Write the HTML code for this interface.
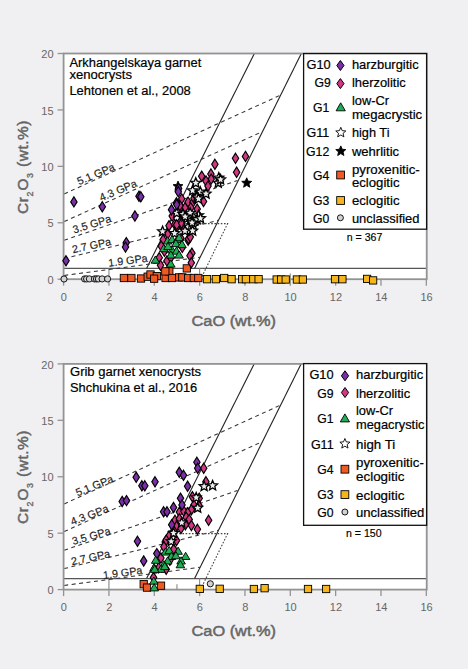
<!DOCTYPE html>
<html><head><meta charset="utf-8"><style>
html,body{margin:0;padding:0;background:#f0f0f2;}
svg{display:block}
.tk{font-family:"Liberation Sans",sans-serif;font-size:11px;fill:#666}
.lg{font-family:"Liberation Sans",sans-serif;font-size:12.2px;fill:#000;stroke:#000;stroke-width:0.2px}
.tt{font-family:"Liberation Sans",sans-serif;font-size:12.5px;fill:#000;stroke:#000;stroke-width:0.2px}
.nn{font-family:"Liberation Sans",sans-serif;font-size:10.6px;fill:#000;stroke:#000;stroke-width:0.15px}
.gp{font-family:"Liberation Sans",sans-serif;font-size:10.8px;fill:#222;stroke:#222;stroke-width:0.15px}
.ax{font-family:"Liberation Sans",sans-serif;font-size:15.4px;fill:#666;stroke:#666;stroke-width:0.5px}
</style></head><body>
<svg width="468" height="669" viewBox="0 0 468 669">
<rect width="468" height="669" fill="#f0f0f2"/>
<rect x="63.6" y="53.5" width="363.12" height="225.7" fill="#fff"/>
<line x1="63.60" y1="279.2" x2="63.60" y2="285.7" stroke="#939393" stroke-width="1.3"/>
<text x="63.90" y="300.60" class="tk" text-anchor="middle">0</text>
<line x1="108.94" y1="279.2" x2="108.94" y2="285.7" stroke="#939393" stroke-width="1.3"/>
<text x="109.24" y="300.60" class="tk" text-anchor="middle">2</text>
<line x1="154.28" y1="279.2" x2="154.28" y2="285.7" stroke="#939393" stroke-width="1.3"/>
<text x="154.58" y="300.60" class="tk" text-anchor="middle">4</text>
<line x1="199.62" y1="279.2" x2="199.62" y2="285.7" stroke="#939393" stroke-width="1.3"/>
<text x="199.92" y="300.60" class="tk" text-anchor="middle">6</text>
<line x1="244.96" y1="279.2" x2="244.96" y2="285.7" stroke="#939393" stroke-width="1.3"/>
<text x="245.26" y="300.60" class="tk" text-anchor="middle">8</text>
<line x1="290.30" y1="279.2" x2="290.30" y2="285.7" stroke="#939393" stroke-width="1.3"/>
<text x="290.60" y="300.60" class="tk" text-anchor="middle">10</text>
<line x1="335.64" y1="279.2" x2="335.64" y2="285.7" stroke="#939393" stroke-width="1.3"/>
<text x="335.94" y="300.60" class="tk" text-anchor="middle">12</text>
<line x1="380.98" y1="279.2" x2="380.98" y2="285.7" stroke="#939393" stroke-width="1.3"/>
<text x="381.28" y="300.60" class="tk" text-anchor="middle">14</text>
<line x1="426.32" y1="279.2" x2="426.32" y2="285.7" stroke="#939393" stroke-width="1.3"/>
<text x="426.62" y="300.60" class="tk" text-anchor="middle">16</text>
<line x1="57.6" y1="279.20" x2="63.6" y2="279.20" stroke="#939393" stroke-width="1.3"/>
<text x="53.60" y="283.90" class="tk" text-anchor="end">0</text>
<line x1="57.6" y1="222.77" x2="63.6" y2="222.77" stroke="#939393" stroke-width="1.3"/>
<text x="53.60" y="227.47" class="tk" text-anchor="end">5</text>
<line x1="57.6" y1="166.35" x2="63.6" y2="166.35" stroke="#939393" stroke-width="1.3"/>
<text x="53.60" y="171.05" class="tk" text-anchor="end">10</text>
<line x1="57.6" y1="109.92" x2="63.6" y2="109.92" stroke="#939393" stroke-width="1.3"/>
<text x="53.60" y="114.62" class="tk" text-anchor="end">15</text>
<line x1="57.6" y1="53.50" x2="63.6" y2="53.50" stroke="#939393" stroke-width="1.3"/>
<text x="53.60" y="58.20" class="tk" text-anchor="end">20</text>
<text x="191.50" y="326.00" class="ax" textLength="84.5" lengthAdjust="spacingAndGlyphs">CaO (wt.%)</text>
<text transform="translate(28.0 213.9) rotate(-90)" class="ax" style="letter-spacing:0.55px">Cr<tspan dy="5.3" font-size="8.8" stroke-width="0.35">2</tspan><tspan dy="-5.3" dx="0.6">O</tspan><tspan dy="5.3" font-size="8.8" stroke-width="0.35">3</tspan><tspan dy="-5.3" dx="0.8"> (wt.%)</tspan></text>
<line x1="63.6" y1="268.31" x2="426.72" y2="268.31" stroke="#555" stroke-width="1.2"/>
<line x1="108.94" y1="267.91" x2="108.94" y2="279.2" stroke="#888" stroke-width="1.1"/>
<line x1="199.62" y1="267.91" x2="199.62" y2="279.2" stroke="#888" stroke-width="1.1"/>
<line x1="290.30" y1="273.5" x2="290.30" y2="279.2" stroke="#888" stroke-width="1.1"/>
<line x1="146.7" y1="268.2" x2="254.4" y2="53.6" stroke="#222" stroke-width="1.1"/>
<line x1="194.7" y1="268.2" x2="301.3" y2="53.6" stroke="#222" stroke-width="1.1"/>
<line x1="64.2" y1="193.9" x2="280.7" y2="95" stroke="#333" stroke-width="1.05" stroke-dasharray="4 3.5" fill="none"/>
<line x1="64.2" y1="221.6" x2="262.6" y2="131.5" stroke="#333" stroke-width="1.05" stroke-dasharray="4 3.5" fill="none"/>
<line x1="64.2" y1="240.3" x2="237.5" y2="180.5" stroke="#333" stroke-width="1.05" stroke-dasharray="4 3.5" fill="none"/>
<line x1="64.2" y1="258.6" x2="218.3" y2="220.3" stroke="#333" stroke-width="1.05" stroke-dasharray="4 3.5" fill="none"/>
<line x1="64.2" y1="275.4" x2="200" y2="257.3" stroke="#333" stroke-width="1.05" stroke-dasharray="4 3.5" fill="none"/>
<path d="M176 223.6L227.6 223.6L200.7 279.2" stroke="#444" stroke-width="1.1" stroke-dasharray="1.6 1.6" fill="none"/>
<rect x="63.6" y="53.5" width="363.12" height="225.7" fill="none" stroke="#939393" stroke-width="1.8"/>
<text transform="translate(79.10000000000001 185.2) rotate(-23)" class="gp">5.1 GPa</text>
<text transform="translate(101.3 201.6) rotate(-23)" class="gp">4.3 GPa</text>
<text transform="translate(74.10000000000001 233.4) rotate(-17)" class="gp">3.5 GPa</text>
<text transform="translate(72.9 253.2) rotate(-12)" class="gp">2.7 GPa</text>
<text transform="translate(108.7 266.8) rotate(-7.5)" class="gp">1.9 GPa</text>
<rect x="203.35" y="275.55" width="7.3" height="7.3" fill="#f7b51c" stroke="#000" stroke-width="0.9"/>
<rect x="212.25" y="275.55" width="7.3" height="7.3" fill="#f7b51c" stroke="#000" stroke-width="0.9"/>
<rect x="220.55" y="274.35" width="7.3" height="7.3" fill="#f7b51c" stroke="#000" stroke-width="0.9"/>
<rect x="227.95" y="275.55" width="7.3" height="7.3" fill="#f7b51c" stroke="#000" stroke-width="0.9"/>
<rect x="238.45" y="275.55" width="7.3" height="7.3" fill="#f7b51c" stroke="#000" stroke-width="0.9"/>
<rect x="242.25" y="275.55" width="7.3" height="7.3" fill="#f7b51c" stroke="#000" stroke-width="0.9"/>
<rect x="249.65" y="275.55" width="7.3" height="7.3" fill="#f7b51c" stroke="#000" stroke-width="0.9"/>
<rect x="254.95" y="275.55" width="7.3" height="7.3" fill="#f7b51c" stroke="#000" stroke-width="0.9"/>
<rect x="273.05" y="275.85" width="7.3" height="7.3" fill="#f7b51c" stroke="#000" stroke-width="0.9"/>
<rect x="277.55" y="275.85" width="7.3" height="7.3" fill="#f7b51c" stroke="#000" stroke-width="0.9"/>
<rect x="282.05" y="275.85" width="7.3" height="7.3" fill="#f7b51c" stroke="#000" stroke-width="0.9"/>
<rect x="293.25" y="275.85" width="7.3" height="7.3" fill="#f7b51c" stroke="#000" stroke-width="0.9"/>
<rect x="299.25" y="275.85" width="7.3" height="7.3" fill="#f7b51c" stroke="#000" stroke-width="0.9"/>
<rect x="331.35" y="275.55" width="7.3" height="7.3" fill="#f7b51c" stroke="#000" stroke-width="0.9"/>
<rect x="338.75" y="275.55" width="7.3" height="7.3" fill="#f7b51c" stroke="#000" stroke-width="0.9"/>
<rect x="363.45" y="275.25" width="7.3" height="7.3" fill="#f7b51c" stroke="#000" stroke-width="0.9"/>
<rect x="369.45" y="276.75" width="7.3" height="7.3" fill="#f7b51c" stroke="#000" stroke-width="0.9"/>
<rect x="120.25" y="274.35" width="7.3" height="7.3" fill="#ef5a24" stroke="#000" stroke-width="0.9"/>
<rect x="127.75" y="274.35" width="7.3" height="7.3" fill="#ef5a24" stroke="#000" stroke-width="0.9"/>
<rect x="137.35" y="274.85" width="7.3" height="7.3" fill="#ef5a24" stroke="#000" stroke-width="0.9"/>
<rect x="144.05" y="273.05" width="7.3" height="7.3" fill="#ef5a24" stroke="#000" stroke-width="0.9"/>
<rect x="146.85" y="270.85" width="7.3" height="7.3" fill="#ef5a24" stroke="#000" stroke-width="0.9"/>
<rect x="153.15" y="272.45" width="7.3" height="7.3" fill="#ef5a24" stroke="#000" stroke-width="0.9"/>
<rect x="150.45" y="275.05" width="7.3" height="7.3" fill="#ef5a24" stroke="#000" stroke-width="0.9"/>
<rect x="161.95" y="274.35" width="7.3" height="7.3" fill="#ef5a24" stroke="#000" stroke-width="0.9"/>
<rect x="165.65" y="267.75" width="7.3" height="7.3" fill="#ef5a24" stroke="#000" stroke-width="0.9"/>
<rect x="168.35" y="274.35" width="7.3" height="7.3" fill="#ef5a24" stroke="#000" stroke-width="0.9"/>
<rect x="175.45" y="273.75" width="7.3" height="7.3" fill="#ef5a24" stroke="#000" stroke-width="0.9"/>
<rect x="183.15" y="264.75" width="7.3" height="7.3" fill="#ef5a24" stroke="#000" stroke-width="0.9"/>
<rect x="178.65" y="273.75" width="7.3" height="7.3" fill="#ef5a24" stroke="#000" stroke-width="0.9"/>
<rect x="184.45" y="274.35" width="7.3" height="7.3" fill="#ef5a24" stroke="#000" stroke-width="0.9"/>
<rect x="190.15" y="274.35" width="7.3" height="7.3" fill="#ef5a24" stroke="#000" stroke-width="0.9"/>
<rect x="194.65" y="274.35" width="7.3" height="7.3" fill="#ef5a24" stroke="#000" stroke-width="0.9"/>
<rect x="161.65" y="267.75" width="7.3" height="7.3" fill="#ef5a24" stroke="#000" stroke-width="0.9"/>
<circle cx="64.00" cy="279.00" r="3.1" fill="#d2d2d2" stroke="#000" stroke-width="0.9"/>
<circle cx="84.60" cy="278.90" r="3.1" fill="#d2d2d2" stroke="#000" stroke-width="0.9"/>
<circle cx="86.60" cy="278.90" r="3.1" fill="#d2d2d2" stroke="#000" stroke-width="0.9"/>
<circle cx="89.40" cy="278.90" r="3.1" fill="#d2d2d2" stroke="#000" stroke-width="0.9"/>
<circle cx="94.50" cy="278.90" r="3.1" fill="#d2d2d2" stroke="#000" stroke-width="0.9"/>
<circle cx="96.50" cy="278.90" r="3.1" fill="#d2d2d2" stroke="#000" stroke-width="0.9"/>
<circle cx="98.40" cy="278.90" r="3.1" fill="#d2d2d2" stroke="#000" stroke-width="0.9"/>
<circle cx="102.10" cy="278.90" r="3.1" fill="#d2d2d2" stroke="#000" stroke-width="0.9"/>
<circle cx="107.60" cy="278.90" r="3.1" fill="#d2d2d2" stroke="#000" stroke-width="0.9"/>
<path d="M178.00 181.10L179.38 184.41L182.95 184.69L180.23 187.02L181.06 190.51L178.00 188.64L174.94 190.51L175.77 187.02L173.05 184.69L176.62 184.41Z" fill="#000" stroke="#000" stroke-width="0.9" stroke-linejoin="miter"/>
<path d="M246.70 177.80L248.08 181.11L251.65 181.39L248.93 183.72L249.76 187.21L246.70 185.34L243.64 187.21L244.47 183.72L241.75 181.39L245.32 181.11Z" fill="#000" stroke="#000" stroke-width="0.9" stroke-linejoin="miter"/>
<path d="M214.90 159.20L218.10 164.30L214.90 169.40L211.70 164.30Z" fill="#cf3882" stroke="#000" stroke-width="1.15"/>
<path d="M235.50 153.20L238.70 158.30L235.50 163.40L232.30 158.30Z" fill="#cf3882" stroke="#000" stroke-width="1.15"/>
<path d="M245.50 151.30L248.70 156.40L245.50 161.50L242.30 156.40Z" fill="#cf3882" stroke="#000" stroke-width="1.15"/>
<path d="M236.60 167.10L239.80 172.20L236.60 177.30L233.40 172.20Z" fill="#cf3882" stroke="#000" stroke-width="1.15"/>
<path d="M201.70 171.10L204.90 176.20L201.70 181.30L198.50 176.20Z" fill="#cf3882" stroke="#000" stroke-width="1.15"/>
<path d="M210.90 168.90L214.10 174.00L210.90 179.10L207.70 174.00Z" fill="#cf3882" stroke="#000" stroke-width="1.15"/>
<path d="M211.20 174.00L214.40 179.10L211.20 184.20L208.00 179.10Z" fill="#cf3882" stroke="#000" stroke-width="1.15"/>
<path d="M206.00 175.90L209.20 181.00L206.00 186.10L202.80 181.00Z" fill="#cf3882" stroke="#000" stroke-width="1.15"/>
<path d="M208.00 181.00L211.20 186.10L208.00 191.20L204.80 186.10Z" fill="#cf3882" stroke="#000" stroke-width="1.15"/>
<path d="M181.70 193.80L184.90 198.90L181.70 204.00L178.50 198.90Z" fill="#cf3882" stroke="#000" stroke-width="1.15"/>
<path d="M188.10 197.00L191.30 202.10L188.10 207.20L184.90 202.10Z" fill="#cf3882" stroke="#000" stroke-width="1.15"/>
<path d="M195.10 190.60L198.30 195.70L195.10 200.80L191.90 195.70Z" fill="#cf3882" stroke="#000" stroke-width="1.15"/>
<path d="M203.50 196.40L206.70 201.50L203.50 206.60L200.30 201.50Z" fill="#cf3882" stroke="#000" stroke-width="1.15"/>
<path d="M192.70 197.50L195.90 202.60L192.70 207.70L189.50 202.60Z" fill="#cf3882" stroke="#000" stroke-width="1.15"/>
<path d="M190.80 202.70L194.00 207.80L190.80 212.90L187.60 207.80Z" fill="#cf3882" stroke="#000" stroke-width="1.15"/>
<path d="M197.20 204.00L200.40 209.10L197.20 214.20L194.00 209.10Z" fill="#cf3882" stroke="#000" stroke-width="1.15"/>
<path d="M180.50 202.00L183.70 207.10L180.50 212.20L177.30 207.10Z" fill="#cf3882" stroke="#000" stroke-width="1.15"/>
<path d="M185.00 202.70L188.20 207.80L185.00 212.90L181.80 207.80Z" fill="#cf3882" stroke="#000" stroke-width="1.15"/>
<path d="M172.20 211.00L175.40 216.10L172.20 221.20L169.00 216.10Z" fill="#cf3882" stroke="#000" stroke-width="1.15"/>
<path d="M169.00 220.60L172.20 225.70L169.00 230.80L165.80 225.70Z" fill="#cf3882" stroke="#000" stroke-width="1.15"/>
<path d="M174.70 219.30L177.90 224.40L174.70 229.50L171.50 224.40Z" fill="#cf3882" stroke="#000" stroke-width="1.15"/>
<path d="M179.90 217.40L183.10 222.50L179.90 227.60L176.70 222.50Z" fill="#cf3882" stroke="#000" stroke-width="1.15"/>
<path d="M177.30 221.30L180.50 226.40L177.30 231.50L174.10 226.40Z" fill="#cf3882" stroke="#000" stroke-width="1.15"/>
<path d="M182.40 221.30L185.60 226.40L182.40 231.50L179.20 226.40Z" fill="#cf3882" stroke="#000" stroke-width="1.15"/>
<path d="M167.70 229.00L170.90 234.10L167.70 239.20L164.50 234.10Z" fill="#cf3882" stroke="#000" stroke-width="1.15"/>
<path d="M194.00 193.10L197.20 198.20L194.00 203.30L190.80 198.20Z" fill="#cf3882" stroke="#000" stroke-width="1.15"/>
<path d="M179.90 200.50L183.10 205.60L179.90 210.70L176.70 205.60Z" fill="#cf3882" stroke="#000" stroke-width="1.15"/>
<path d="M176.70 219.70L179.90 224.80L176.70 229.90L173.50 224.80Z" fill="#cf3882" stroke="#000" stroke-width="1.15"/>
<path d="M163.10 234.60L166.30 239.70L163.10 244.80L159.90 239.70Z" fill="#cf3882" stroke="#000" stroke-width="1.15"/>
<path d="M181.00 233.30L184.20 238.40L181.00 243.50L177.80 238.40Z" fill="#cf3882" stroke="#000" stroke-width="1.15"/>
<path d="M188.10 235.20L191.30 240.30L188.10 245.40L184.90 240.30Z" fill="#cf3882" stroke="#000" stroke-width="1.15"/>
<path d="M182.30 242.30L185.50 247.40L182.30 252.50L179.10 247.40Z" fill="#cf3882" stroke="#000" stroke-width="1.15"/>
<path d="M161.20 241.00L164.40 246.10L161.20 251.20L158.00 246.10Z" fill="#cf3882" stroke="#000" stroke-width="1.15"/>
<path d="M164.40 246.10L167.60 251.20L164.40 256.30L161.20 251.20Z" fill="#cf3882" stroke="#000" stroke-width="1.15"/>
<path d="M191.90 248.10L195.10 253.20L191.90 258.30L188.70 253.20Z" fill="#cf3882" stroke="#000" stroke-width="1.15"/>
<path d="M190.00 250.60L193.20 255.70L190.00 260.80L186.80 255.70Z" fill="#cf3882" stroke="#000" stroke-width="1.15"/>
<path d="M159.20 252.60L162.40 257.70L159.20 262.80L156.00 257.70Z" fill="#cf3882" stroke="#000" stroke-width="1.15"/>
<path d="M166.90 255.80L170.10 260.90L166.90 266.00L163.70 260.90Z" fill="#cf3882" stroke="#000" stroke-width="1.15"/>
<path d="M160.50 260.20L163.70 265.30L160.50 270.40L157.30 265.30Z" fill="#cf3882" stroke="#000" stroke-width="1.15"/>
<path d="M191.30 257.70L194.50 262.80L191.30 267.90L188.10 262.80Z" fill="#cf3882" stroke="#000" stroke-width="1.15"/>
<path d="M170.80 252.60L174.00 257.70L170.80 262.80L167.60 257.70Z" fill="#cf3882" stroke="#000" stroke-width="1.15"/>
<path d="M188.50 233.60L191.70 238.70L188.50 243.80L185.30 238.70Z" fill="#cf3882" stroke="#000" stroke-width="1.15"/>
<path d="M190.30 231.90L193.50 237.00L190.30 242.10L187.10 237.00Z" fill="#cf3882" stroke="#000" stroke-width="1.15"/>
<path d="M181.70 218.20L184.90 223.30L181.70 228.40L178.50 223.30Z" fill="#cf3882" stroke="#000" stroke-width="1.15"/>
<path d="M218.80 172.60L220.18 175.91L223.75 176.19L221.03 178.52L221.86 182.01L218.80 180.14L215.74 182.01L216.57 178.52L213.85 176.19L217.42 175.91Z" fill="#ececec" stroke="#000" stroke-width="1.3" stroke-linejoin="miter"/>
<path d="M218.20 177.80L219.58 181.11L223.15 181.39L220.43 183.72L221.26 187.21L218.20 185.34L215.14 187.21L215.97 183.72L213.25 181.39L216.82 181.11Z" fill="#ececec" stroke="#000" stroke-width="1.3" stroke-linejoin="miter"/>
<path d="M195.80 177.80L197.18 181.11L200.75 181.39L198.03 183.72L198.86 187.21L195.80 185.34L192.74 187.21L193.57 183.72L190.85 181.39L194.42 181.11Z" fill="#ececec" stroke="#000" stroke-width="1.3" stroke-linejoin="miter"/>
<path d="M192.60 185.40L193.98 188.71L197.55 188.99L194.83 191.32L195.66 194.81L192.60 192.94L189.54 194.81L190.37 191.32L187.65 188.99L191.22 188.71Z" fill="#ececec" stroke="#000" stroke-width="1.3" stroke-linejoin="miter"/>
<path d="M200.30 186.70L201.68 190.01L205.25 190.29L202.53 192.62L203.36 196.11L200.30 194.24L197.24 196.11L198.07 192.62L195.35 190.29L198.92 190.01Z" fill="#ececec" stroke="#000" stroke-width="1.3" stroke-linejoin="miter"/>
<path d="M206.00 188.60L207.38 191.91L210.95 192.19L208.23 194.52L209.06 198.01L206.00 196.14L202.94 198.01L203.77 194.52L201.05 192.19L204.62 191.91Z" fill="#ececec" stroke="#000" stroke-width="1.3" stroke-linejoin="miter"/>
<path d="M197.00 191.80L198.38 195.11L201.95 195.39L199.23 197.72L200.06 201.21L197.00 199.34L193.94 201.21L194.77 197.72L192.05 195.39L195.62 195.11Z" fill="#ececec" stroke="#000" stroke-width="1.3" stroke-linejoin="miter"/>
<path d="M220.60 174.40L221.98 177.71L225.55 177.99L222.83 180.32L223.66 183.81L220.60 181.94L217.54 183.81L218.37 180.32L215.65 177.99L219.22 177.71Z" fill="#ececec" stroke="#000" stroke-width="1.3" stroke-linejoin="miter"/>
<path d="M198.50 193.60L199.88 196.91L203.45 197.19L200.73 199.52L201.56 203.01L198.50 201.14L195.44 203.01L196.27 199.52L193.55 197.19L197.12 196.91Z" fill="#ececec" stroke="#000" stroke-width="1.3" stroke-linejoin="miter"/>
<path d="M176.70 207.80L178.08 211.11L181.65 211.39L178.93 213.72L179.76 217.21L176.70 215.34L173.64 217.21L174.47 213.72L171.75 211.39L175.32 211.11Z" fill="#ececec" stroke="#000" stroke-width="1.3" stroke-linejoin="miter"/>
<path d="M183.00 209.00L184.38 212.31L187.95 212.59L185.23 214.92L186.06 218.41L183.00 216.54L179.94 218.41L180.77 214.92L178.05 212.59L181.62 212.31Z" fill="#ececec" stroke="#000" stroke-width="1.3" stroke-linejoin="miter"/>
<path d="M190.10 207.80L191.48 211.11L195.05 211.39L192.33 213.72L193.16 217.21L190.10 215.34L187.04 217.21L187.87 213.72L185.15 211.39L188.72 211.11Z" fill="#ececec" stroke="#000" stroke-width="1.3" stroke-linejoin="miter"/>
<path d="M198.50 210.30L199.88 213.61L203.45 213.89L200.73 216.22L201.56 219.71L198.50 217.84L195.44 219.71L196.27 216.22L193.55 213.89L197.12 213.61Z" fill="#ececec" stroke="#000" stroke-width="1.3" stroke-linejoin="miter"/>
<path d="M186.90 213.50L188.28 216.81L191.85 217.09L189.13 219.42L189.96 222.91L186.90 221.04L183.84 222.91L184.67 219.42L181.95 217.09L185.52 216.81Z" fill="#ececec" stroke="#000" stroke-width="1.3" stroke-linejoin="miter"/>
<path d="M192.00 215.40L193.38 218.71L196.95 218.99L194.23 221.32L195.06 224.81L192.00 222.94L188.94 224.81L189.77 221.32L187.05 218.99L190.62 218.71Z" fill="#ececec" stroke="#000" stroke-width="1.3" stroke-linejoin="miter"/>
<path d="M197.20 214.20L198.58 217.51L202.15 217.79L199.43 220.12L200.26 223.61L197.20 221.74L194.14 223.61L194.97 220.12L192.25 217.79L195.82 217.51Z" fill="#ececec" stroke="#000" stroke-width="1.3" stroke-linejoin="miter"/>
<path d="M188.20 221.80L189.58 225.11L193.15 225.39L190.43 227.72L191.26 231.21L188.20 229.34L185.14 231.21L185.97 227.72L183.25 225.39L186.82 225.11Z" fill="#ececec" stroke="#000" stroke-width="1.3" stroke-linejoin="miter"/>
<path d="M193.30 220.60L194.68 223.91L198.25 224.19L195.53 226.52L196.36 230.01L193.30 228.14L190.24 230.01L191.07 226.52L188.35 224.19L191.92 223.91Z" fill="#ececec" stroke="#000" stroke-width="1.3" stroke-linejoin="miter"/>
<path d="M162.60 226.30L163.98 229.61L167.55 229.89L164.83 232.22L165.66 235.71L162.60 233.84L159.54 235.71L160.37 232.22L157.65 229.89L161.22 229.61Z" fill="#ececec" stroke="#000" stroke-width="1.3" stroke-linejoin="miter"/>
<path d="M185.00 225.70L186.38 229.01L189.95 229.29L187.23 231.62L188.06 235.11L185.00 233.24L181.94 235.11L182.77 231.62L180.05 229.29L183.62 229.01Z" fill="#ececec" stroke="#000" stroke-width="1.3" stroke-linejoin="miter"/>
<path d="M174.60 228.10L175.98 231.41L179.55 231.69L176.83 234.02L177.66 237.51L174.60 235.64L171.54 237.51L172.37 234.02L169.65 231.69L173.22 231.41Z" fill="#ececec" stroke="#000" stroke-width="1.3" stroke-linejoin="miter"/>
<path d="M192.60 225.60L193.98 228.91L197.55 229.19L194.83 231.52L195.66 235.01L192.60 233.14L189.54 235.01L190.37 231.52L187.65 229.19L191.22 228.91Z" fill="#ececec" stroke="#000" stroke-width="1.3" stroke-linejoin="miter"/>
<path d="M185.10 211.50L186.48 214.81L190.05 215.09L187.33 217.42L188.16 220.91L185.10 219.04L182.04 220.91L182.87 217.42L180.15 215.09L183.72 214.81Z" fill="#ececec" stroke="#000" stroke-width="1.3" stroke-linejoin="miter"/>
<path d="M192.00 217.50L193.38 220.81L196.95 221.09L194.23 223.42L195.06 226.91L192.00 225.04L188.94 226.91L189.77 223.42L187.05 221.09L190.62 220.81Z" fill="#ececec" stroke="#000" stroke-width="1.3" stroke-linejoin="miter"/>
<path d="M200.50 213.20L201.88 216.51L205.45 216.79L202.73 219.12L203.56 222.61L200.50 220.74L197.44 222.61L198.27 219.12L195.55 216.79L199.12 216.51Z" fill="#ececec" stroke="#000" stroke-width="1.3" stroke-linejoin="miter"/>
<path d="M73.90 196.80L77.10 201.90L73.90 207.00L70.70 201.90Z" fill="#7a2ea8" stroke="#000" stroke-width="1.15"/>
<path d="M102.30 201.70L105.50 206.80L102.30 211.90L99.10 206.80Z" fill="#7a2ea8" stroke="#000" stroke-width="1.15"/>
<path d="M139.00 191.10L142.20 196.20L139.00 201.30L135.80 196.20Z" fill="#7a2ea8" stroke="#000" stroke-width="1.15"/>
<path d="M140.80 191.70L144.00 196.80L140.80 201.90L137.60 196.80Z" fill="#7a2ea8" stroke="#000" stroke-width="1.15"/>
<path d="M134.90 210.90L138.10 216.00L134.90 221.10L131.70 216.00Z" fill="#7a2ea8" stroke="#000" stroke-width="1.15"/>
<path d="M126.30 237.50L129.50 242.60L126.30 247.70L123.10 242.60Z" fill="#7a2ea8" stroke="#000" stroke-width="1.15"/>
<path d="M125.50 242.00L128.70 247.10L125.50 252.20L122.30 247.10Z" fill="#7a2ea8" stroke="#000" stroke-width="1.15"/>
<path d="M66.00 255.70L69.20 260.80L66.00 265.90L62.80 260.80Z" fill="#7a2ea8" stroke="#000" stroke-width="1.15"/>
<path d="M178.60 183.30L181.80 188.40L178.60 193.50L175.40 188.40Z" fill="#7a2ea8" stroke="#000" stroke-width="1.15"/>
<path d="M176.50 197.70L179.70 202.80L176.50 207.90L173.30 202.80Z" fill="#7a2ea8" stroke="#000" stroke-width="1.15"/>
<path d="M176.70 199.50L179.90 204.60L176.70 209.70L173.50 204.60Z" fill="#7a2ea8" stroke="#000" stroke-width="1.15"/>
<path d="M171.50 204.60L174.70 209.70L171.50 214.80L168.30 209.70Z" fill="#7a2ea8" stroke="#000" stroke-width="1.15"/>
<path d="M178.30 186.60L181.50 191.70L178.30 196.80L175.10 191.70Z" fill="#7a2ea8" stroke="#000" stroke-width="1.15"/>
<path d="M167.60 236.80L171.90 244.00L163.30 244.00Z" fill="#1eae54" stroke="#000" stroke-width="0.9"/>
<path d="M172.00 235.50L176.30 242.70L167.70 242.70Z" fill="#1eae54" stroke="#000" stroke-width="0.9"/>
<path d="M177.20 235.50L181.50 242.70L172.90 242.70Z" fill="#1eae54" stroke="#000" stroke-width="0.9"/>
<path d="M179.10 233.60L183.40 240.80L174.80 240.80Z" fill="#1eae54" stroke="#000" stroke-width="0.9"/>
<path d="M163.70 244.50L168.00 251.70L159.40 251.70Z" fill="#1eae54" stroke="#000" stroke-width="0.9"/>
<path d="M175.90 239.40L180.20 246.60L171.60 246.60Z" fill="#1eae54" stroke="#000" stroke-width="0.9"/>
<path d="M172.00 245.80L176.30 253.00L167.70 253.00Z" fill="#1eae54" stroke="#000" stroke-width="0.9"/>
<path d="M176.50 247.00L180.80 254.20L172.20 254.20Z" fill="#1eae54" stroke="#000" stroke-width="0.9"/>
<path d="M170.80 250.90L175.10 258.10L166.50 258.10Z" fill="#1eae54" stroke="#000" stroke-width="0.9"/>
<path d="M179.10 250.90L183.40 258.10L174.80 258.10Z" fill="#1eae54" stroke="#000" stroke-width="0.9"/>
<path d="M155.40 256.00L159.70 263.20L151.10 263.20Z" fill="#1eae54" stroke="#000" stroke-width="0.9"/>
<path d="M170.80 259.90L175.10 267.10L166.50 267.10Z" fill="#1eae54" stroke="#000" stroke-width="0.9"/>
<path d="M168.00 242.40L172.30 249.60L163.70 249.60Z" fill="#1eae54" stroke="#000" stroke-width="0.9"/>
<path d="M182.00 240.40L186.30 247.60L177.70 247.60Z" fill="#1eae54" stroke="#000" stroke-width="0.9"/>
<text x="69.40" y="67.00" class="tt" textLength="131.9" lengthAdjust="spacingAndGlyphs">Arkhangelskaya garnet</text>
<text x="69.40" y="78.80" class="tt" textLength="62.6" lengthAdjust="spacingAndGlyphs">xenocrysts</text>
<text x="69.40" y="94.50" class="tt" textLength="121.4" lengthAdjust="spacingAndGlyphs">Lehtonen et al., 2008</text>
<rect x="303.6" y="53.6" width="123" height="175.6" fill="#fff" stroke="#111" stroke-width="1.3"/>
<text x="330.70" y="69.00" class="lg" text-anchor="end" textLength="24.2" lengthAdjust="spacingAndGlyphs">G10</text>
<path d="M340.40 60.50L344.00 65.50L340.40 70.50L336.80 65.50Z" fill="#7a2ea8" stroke="#000" stroke-width="1.0"/>
<text x="351.90" y="69.10" class="lg" textLength="66.7" lengthAdjust="spacingAndGlyphs">harzburgitic</text>
<text x="330.70" y="87.10" class="lg" text-anchor="end">G9</text>
<path d="M340.40 78.60L344.00 83.60L340.40 88.60L336.80 83.60Z" fill="#cf3882" stroke="#000" stroke-width="1.0"/>
<text x="351.90" y="87.20" class="lg" textLength="53.9" lengthAdjust="spacingAndGlyphs">lherzolitic</text>
<text x="329.30" y="111.70" class="lg" text-anchor="end">G1</text>
<path d="M340.70 102.80L345.30 110.80L336.10 110.80Z" fill="#1eae54" stroke="#000" stroke-width="0.9"/>
<text x="351.90" y="105.00" class="lg" textLength="37.1" lengthAdjust="spacingAndGlyphs">low-Cr</text>
<text x="351.90" y="118.80" class="lg" textLength="70.3" lengthAdjust="spacingAndGlyphs">megacrystic</text>
<text x="329.30" y="137.20" class="lg" text-anchor="end" textLength="22.7" lengthAdjust="spacingAndGlyphs">G11</text>
<path d="M340.80 127.30L342.20 130.67L345.84 130.96L343.07 133.34L343.92 136.89L340.80 134.98L337.68 136.89L338.53 133.34L335.76 130.96L339.40 130.67Z" fill="#fff" stroke="#000" stroke-width="0.9" stroke-linejoin="miter"/>
<text x="351.90" y="137.30" class="lg" textLength="37.6" lengthAdjust="spacingAndGlyphs">high Ti</text>
<text x="329.30" y="156.10" class="lg" text-anchor="end" textLength="23.3" lengthAdjust="spacingAndGlyphs">G12</text>
<path d="M340.80 145.90L342.20 149.27L345.84 149.56L343.07 151.94L343.92 155.49L340.80 153.58L337.68 155.49L338.53 151.94L335.76 149.56L339.40 149.27Z" fill="#000" stroke="#000" stroke-width="0.9" stroke-linejoin="miter"/>
<text x="351.90" y="156.00" class="lg" textLength="47.2" lengthAdjust="spacingAndGlyphs">wehrlitic</text>
<text x="329.30" y="180.00" class="lg" text-anchor="end">G4</text>
<rect x="336.70" y="171.10" width="7.8" height="7.8" fill="#ef5a24" stroke="#000" stroke-width="0.9"/>
<text x="351.90" y="174.10" class="lg" textLength="67.9" lengthAdjust="spacingAndGlyphs">pyroxenitic-</text>
<text x="351.90" y="187.20" class="lg" textLength="47.6" lengthAdjust="spacingAndGlyphs">eclogitic</text>
<text x="329.30" y="205.20" class="lg" text-anchor="end">G3</text>
<rect x="336.70" y="196.60" width="7.8" height="7.8" fill="#f7b51c" stroke="#000" stroke-width="0.9"/>
<text x="351.90" y="205.20" class="lg" textLength="47.6" lengthAdjust="spacingAndGlyphs">eclogitic</text>
<text x="329.30" y="223.10" class="lg" text-anchor="end">G0</text>
<circle cx="340.40" cy="217.80" r="3.0" fill="#d2d2d2" stroke="#000" stroke-width="0.9"/>
<text x="351.90" y="223.00" class="lg" textLength="67.6" lengthAdjust="spacingAndGlyphs">unclassified</text>
<text x="346.70" y="240.60" class="nn" textLength="35.6" lengthAdjust="spacingAndGlyphs">n = 367</text>
<rect x="63.6" y="363.9" width="363.12" height="225.70000000000005" fill="#fff"/>
<line x1="63.60" y1="589.6" x2="63.60" y2="596.1" stroke="#939393" stroke-width="1.3"/>
<text x="63.90" y="611.00" class="tk" text-anchor="middle">0</text>
<line x1="108.94" y1="589.6" x2="108.94" y2="596.1" stroke="#939393" stroke-width="1.3"/>
<text x="109.24" y="611.00" class="tk" text-anchor="middle">2</text>
<line x1="154.28" y1="589.6" x2="154.28" y2="596.1" stroke="#939393" stroke-width="1.3"/>
<text x="154.58" y="611.00" class="tk" text-anchor="middle">4</text>
<line x1="199.62" y1="589.6" x2="199.62" y2="596.1" stroke="#939393" stroke-width="1.3"/>
<text x="199.92" y="611.00" class="tk" text-anchor="middle">6</text>
<line x1="244.96" y1="589.6" x2="244.96" y2="596.1" stroke="#939393" stroke-width="1.3"/>
<text x="245.26" y="611.00" class="tk" text-anchor="middle">8</text>
<line x1="290.30" y1="589.6" x2="290.30" y2="596.1" stroke="#939393" stroke-width="1.3"/>
<text x="290.60" y="611.00" class="tk" text-anchor="middle">10</text>
<line x1="335.64" y1="589.6" x2="335.64" y2="596.1" stroke="#939393" stroke-width="1.3"/>
<text x="335.94" y="611.00" class="tk" text-anchor="middle">12</text>
<line x1="380.98" y1="589.6" x2="380.98" y2="596.1" stroke="#939393" stroke-width="1.3"/>
<text x="381.28" y="611.00" class="tk" text-anchor="middle">14</text>
<line x1="426.32" y1="589.6" x2="426.32" y2="596.1" stroke="#939393" stroke-width="1.3"/>
<text x="426.62" y="611.00" class="tk" text-anchor="middle">16</text>
<line x1="57.6" y1="589.60" x2="63.6" y2="589.60" stroke="#939393" stroke-width="1.3"/>
<text x="53.60" y="594.30" class="tk" text-anchor="end">0</text>
<line x1="57.6" y1="533.17" x2="63.6" y2="533.17" stroke="#939393" stroke-width="1.3"/>
<text x="53.60" y="537.88" class="tk" text-anchor="end">5</text>
<line x1="57.6" y1="476.75" x2="63.6" y2="476.75" stroke="#939393" stroke-width="1.3"/>
<text x="53.60" y="481.45" class="tk" text-anchor="end">10</text>
<line x1="57.6" y1="420.32" x2="63.6" y2="420.32" stroke="#939393" stroke-width="1.3"/>
<text x="53.60" y="425.02" class="tk" text-anchor="end">15</text>
<line x1="57.6" y1="363.90" x2="63.6" y2="363.90" stroke="#939393" stroke-width="1.3"/>
<text x="53.60" y="368.60" class="tk" text-anchor="end">20</text>
<text x="191.50" y="636.00" class="ax" textLength="84.5" lengthAdjust="spacingAndGlyphs">CaO (wt.%)</text>
<text transform="translate(28.0 523.9) rotate(-90)" class="ax" style="letter-spacing:0.55px">Cr<tspan dy="5.3" font-size="8.8" stroke-width="0.35">2</tspan><tspan dy="-5.3" dx="0.6">O</tspan><tspan dy="5.3" font-size="8.8" stroke-width="0.35">3</tspan><tspan dy="-5.3" dx="0.8"> (wt.%)</tspan></text>
<line x1="63.6" y1="578.71" x2="426.72" y2="578.71" stroke="#555" stroke-width="1.2"/>
<line x1="108.94" y1="578.31" x2="108.94" y2="589.6" stroke="#888" stroke-width="1.1"/>
<line x1="199.62" y1="578.31" x2="199.62" y2="589.6" stroke="#888" stroke-width="1.1"/>
<line x1="176.95" y1="584.3" x2="176.95" y2="589.6" stroke="#888" stroke-width="1.1"/>
<line x1="146.7" y1="578.2" x2="254.4" y2="363.6" stroke="#222" stroke-width="1.1"/>
<line x1="194.7" y1="578.2" x2="301.3" y2="363.6" stroke="#222" stroke-width="1.1"/>
<line x1="64.2" y1="503.9" x2="280.7" y2="405" stroke="#333" stroke-width="1.05" stroke-dasharray="4 3.5" fill="none"/>
<line x1="64.2" y1="531.6" x2="262.6" y2="441.5" stroke="#333" stroke-width="1.05" stroke-dasharray="4 3.5" fill="none"/>
<line x1="64.2" y1="550.3" x2="237.5" y2="490.5" stroke="#333" stroke-width="1.05" stroke-dasharray="4 3.5" fill="none"/>
<line x1="64.2" y1="568.6" x2="218.3" y2="530.3" stroke="#333" stroke-width="1.05" stroke-dasharray="4 3.5" fill="none"/>
<line x1="64.2" y1="585.4" x2="200" y2="567.3" stroke="#333" stroke-width="1.05" stroke-dasharray="4 3.5" fill="none"/>
<path d="M176 533.6L227.6 533.6L200.7 589.2" stroke="#444" stroke-width="1.1" stroke-dasharray="1.6 1.6" fill="none"/>
<rect x="63.6" y="363.9" width="363.12" height="225.70000000000005" fill="none" stroke="#939393" stroke-width="1.8"/>
<text transform="translate(77.4 496.6) rotate(-22)" class="gp">5.1 GPa</text>
<text transform="translate(72.3 525.6) rotate(-21)" class="gp">4.3 GPa</text>
<text transform="translate(73.2 545.1) rotate(-16)" class="gp">3.5 GPa</text>
<text transform="translate(71.9 565.2) rotate(-12)" class="gp">2.7 GPa</text>
<text transform="translate(103.5 579.0) rotate(-7.5)" class="gp">1.9 GPa</text>
<rect x="196.15" y="585.25" width="7.3" height="7.3" fill="#f7b51c" stroke="#000" stroke-width="0.9"/>
<rect x="216.05" y="585.15" width="7.3" height="7.3" fill="#f7b51c" stroke="#000" stroke-width="0.9"/>
<rect x="250.25" y="585.35" width="7.3" height="7.3" fill="#f7b51c" stroke="#000" stroke-width="0.9"/>
<rect x="260.95" y="584.55" width="7.3" height="7.3" fill="#f7b51c" stroke="#000" stroke-width="0.9"/>
<rect x="304.35" y="585.35" width="7.3" height="7.3" fill="#f7b51c" stroke="#000" stroke-width="0.9"/>
<rect x="322.45" y="585.35" width="7.3" height="7.3" fill="#f7b51c" stroke="#000" stroke-width="0.9"/>
<rect x="140.05" y="580.55" width="7.3" height="7.3" fill="#ef5a24" stroke="#000" stroke-width="0.9"/>
<rect x="143.35" y="583.95" width="7.3" height="7.3" fill="#ef5a24" stroke="#000" stroke-width="0.9"/>
<rect x="157.35" y="582.05" width="7.3" height="7.3" fill="#ef5a24" stroke="#000" stroke-width="0.9"/>
<circle cx="210.30" cy="583.80" r="3.1" fill="#d2d2d2" stroke="#000" stroke-width="0.9"/>
<path d="M203.70 463.20L206.90 468.30L203.70 473.40L200.50 468.30Z" fill="#cf3882" stroke="#000" stroke-width="1.15"/>
<path d="M205.90 476.60L209.10 481.70L205.90 486.80L202.70 481.70Z" fill="#cf3882" stroke="#000" stroke-width="1.15"/>
<path d="M192.40 491.60L195.60 496.70L192.40 501.80L189.20 496.70Z" fill="#cf3882" stroke="#000" stroke-width="1.15"/>
<path d="M199.20 493.10L202.40 498.20L199.20 503.30L196.00 498.20Z" fill="#cf3882" stroke="#000" stroke-width="1.15"/>
<path d="M193.90 499.80L197.10 504.90L193.90 510.00L190.70 504.90Z" fill="#cf3882" stroke="#000" stroke-width="1.15"/>
<path d="M199.00 500.50L202.20 505.60L199.00 510.70L195.80 505.60Z" fill="#cf3882" stroke="#000" stroke-width="1.15"/>
<path d="M191.40 504.70L194.60 509.80L191.40 514.90L188.20 509.80Z" fill="#cf3882" stroke="#000" stroke-width="1.15"/>
<path d="M179.40 507.00L182.60 512.10L179.40 517.20L176.20 512.10Z" fill="#cf3882" stroke="#000" stroke-width="1.15"/>
<path d="M183.90 506.20L187.10 511.30L183.90 516.40L180.70 511.30Z" fill="#cf3882" stroke="#000" stroke-width="1.15"/>
<path d="M187.70 507.70L190.90 512.80L187.70 517.90L184.50 512.80Z" fill="#cf3882" stroke="#000" stroke-width="1.15"/>
<path d="M208.60 515.20L211.80 520.30L208.60 525.40L205.40 520.30Z" fill="#cf3882" stroke="#000" stroke-width="1.15"/>
<path d="M175.00 515.20L178.20 520.30L175.00 525.40L171.80 520.30Z" fill="#cf3882" stroke="#000" stroke-width="1.15"/>
<path d="M179.40 513.70L182.60 518.80L179.40 523.90L176.20 518.80Z" fill="#cf3882" stroke="#000" stroke-width="1.15"/>
<path d="M186.20 512.20L189.40 517.30L186.20 522.40L183.00 517.30Z" fill="#cf3882" stroke="#000" stroke-width="1.15"/>
<path d="M189.20 514.40L192.40 519.50L189.20 524.60L186.00 519.50Z" fill="#cf3882" stroke="#000" stroke-width="1.15"/>
<path d="M191.40 520.40L194.60 525.50L191.40 530.60L188.20 525.50Z" fill="#cf3882" stroke="#000" stroke-width="1.15"/>
<path d="M197.40 524.20L200.60 529.30L197.40 534.40L194.20 529.30Z" fill="#cf3882" stroke="#000" stroke-width="1.15"/>
<path d="M176.50 521.20L179.70 526.30L176.50 531.40L173.30 526.30Z" fill="#cf3882" stroke="#000" stroke-width="1.15"/>
<path d="M181.00 523.40L184.20 528.50L181.00 533.60L177.80 528.50Z" fill="#cf3882" stroke="#000" stroke-width="1.15"/>
<path d="M185.40 519.70L188.60 524.80L185.40 529.90L182.20 524.80Z" fill="#cf3882" stroke="#000" stroke-width="1.15"/>
<path d="M174.20 526.40L177.40 531.50L174.20 536.60L171.00 531.50Z" fill="#cf3882" stroke="#000" stroke-width="1.15"/>
<path d="M169.00 530.90L172.20 536.00L169.00 541.10L165.80 536.00Z" fill="#cf3882" stroke="#000" stroke-width="1.15"/>
<path d="M165.20 536.90L168.40 542.00L165.20 547.10L162.00 542.00Z" fill="#cf3882" stroke="#000" stroke-width="1.15"/>
<path d="M176.50 535.40L179.70 540.50L176.50 545.60L173.30 540.50Z" fill="#cf3882" stroke="#000" stroke-width="1.15"/>
<path d="M166.20 535.00L169.40 540.10L166.20 545.20L163.00 540.10Z" fill="#cf3882" stroke="#000" stroke-width="1.15"/>
<path d="M163.90 541.70L167.10 546.80L163.90 551.90L160.70 546.80Z" fill="#cf3882" stroke="#000" stroke-width="1.15"/>
<path d="M173.70 544.00L176.90 549.10L173.70 554.20L170.50 549.10Z" fill="#cf3882" stroke="#000" stroke-width="1.15"/>
<path d="M160.90 552.90L164.10 558.00L160.90 563.10L157.70 558.00Z" fill="#cf3882" stroke="#000" stroke-width="1.15"/>
<path d="M169.90 555.20L173.10 560.30L169.90 565.40L166.70 560.30Z" fill="#cf3882" stroke="#000" stroke-width="1.15"/>
<path d="M166.20 564.20L169.40 569.30L166.20 574.40L163.00 569.30Z" fill="#cf3882" stroke="#000" stroke-width="1.15"/>
<path d="M158.70 562.70L161.90 567.80L158.70 572.90L155.50 567.80Z" fill="#cf3882" stroke="#000" stroke-width="1.15"/>
<path d="M153.50 572.40L156.70 577.50L153.50 582.60L150.30 577.50Z" fill="#cf3882" stroke="#000" stroke-width="1.15"/>
<path d="M204.10 481.20L205.48 484.51L209.05 484.79L206.33 487.12L207.16 490.61L204.10 488.74L201.04 490.61L201.87 487.12L199.15 484.79L202.72 484.51Z" fill="#ececec" stroke="#000" stroke-width="1.3" stroke-linejoin="miter"/>
<path d="M212.60 480.40L213.98 483.71L217.55 483.99L214.83 486.32L215.66 489.81L212.60 487.94L209.54 489.81L210.37 486.32L207.65 483.99L211.22 483.71Z" fill="#ececec" stroke="#000" stroke-width="1.3" stroke-linejoin="miter"/>
<path d="M196.20 492.40L197.58 495.71L201.15 495.99L198.43 498.32L199.26 501.81L196.20 499.94L193.14 501.81L193.97 498.32L191.25 495.99L194.82 495.71Z" fill="#ececec" stroke="#000" stroke-width="1.3" stroke-linejoin="miter"/>
<path d="M197.70 502.80L199.08 506.11L202.65 506.39L199.93 508.72L200.76 512.21L197.70 510.34L194.64 512.21L195.47 508.72L192.75 506.39L196.32 506.11Z" fill="#ececec" stroke="#000" stroke-width="1.3" stroke-linejoin="miter"/>
<path d="M181.70 517.50L183.08 520.81L186.65 521.09L183.93 523.42L184.76 526.91L181.70 525.04L178.64 526.91L179.47 523.42L176.75 521.09L180.32 520.81Z" fill="#ececec" stroke="#000" stroke-width="1.3" stroke-linejoin="miter"/>
<path d="M173.50 527.90L174.88 531.21L178.45 531.49L175.73 533.82L176.56 537.31L173.50 535.44L170.44 537.31L171.27 533.82L168.55 531.49L172.12 531.21Z" fill="#ececec" stroke="#000" stroke-width="1.3" stroke-linejoin="miter"/>
<path d="M171.20 536.20L172.58 539.51L176.15 539.79L173.43 542.12L174.26 545.61L171.20 543.74L168.14 545.61L168.97 542.12L166.25 539.79L169.82 539.51Z" fill="#ececec" stroke="#000" stroke-width="1.3" stroke-linejoin="miter"/>
<path d="M136.20 472.10L139.40 477.20L136.20 482.30L133.00 477.20Z" fill="#7a2ea8" stroke="#000" stroke-width="1.15"/>
<path d="M141.90 480.70L145.10 485.80L141.90 490.90L138.70 485.80Z" fill="#7a2ea8" stroke="#000" stroke-width="1.15"/>
<path d="M144.80 480.70L148.00 485.80L144.80 490.90L141.60 485.80Z" fill="#7a2ea8" stroke="#000" stroke-width="1.15"/>
<path d="M155.00 476.70L158.20 481.80L155.00 486.90L151.80 481.80Z" fill="#7a2ea8" stroke="#000" stroke-width="1.15"/>
<path d="M122.20 496.40L125.40 501.50L122.20 506.60L119.00 501.50Z" fill="#7a2ea8" stroke="#000" stroke-width="1.15"/>
<path d="M126.50 495.50L129.70 500.60L126.50 505.70L123.30 500.60Z" fill="#7a2ea8" stroke="#000" stroke-width="1.15"/>
<path d="M163.60 506.70L166.80 511.80L163.60 516.90L160.40 511.80Z" fill="#7a2ea8" stroke="#000" stroke-width="1.15"/>
<path d="M167.00 506.70L170.20 511.80L167.00 516.90L163.80 511.80Z" fill="#7a2ea8" stroke="#000" stroke-width="1.15"/>
<path d="M173.50 502.40L176.70 507.50L173.50 512.60L170.30 507.50Z" fill="#7a2ea8" stroke="#000" stroke-width="1.15"/>
<path d="M196.90 457.20L200.10 462.30L196.90 467.40L193.70 462.30Z" fill="#7a2ea8" stroke="#000" stroke-width="1.15"/>
<path d="M197.70 463.20L200.90 468.30L197.70 473.40L194.50 468.30Z" fill="#7a2ea8" stroke="#000" stroke-width="1.15"/>
<path d="M179.30 467.20L182.50 472.30L179.30 477.40L176.10 472.30Z" fill="#7a2ea8" stroke="#000" stroke-width="1.15"/>
<path d="M183.50 470.20L186.70 475.30L183.50 480.40L180.30 475.30Z" fill="#7a2ea8" stroke="#000" stroke-width="1.15"/>
<path d="M187.60 481.10L190.80 486.20L187.60 491.30L184.40 486.20Z" fill="#7a2ea8" stroke="#000" stroke-width="1.15"/>
<path d="M180.50 493.10L183.70 498.20L180.50 503.30L177.30 498.20Z" fill="#7a2ea8" stroke="#000" stroke-width="1.15"/>
<path d="M182.00 499.80L185.20 504.90L182.00 510.00L178.80 504.90Z" fill="#7a2ea8" stroke="#000" stroke-width="1.15"/>
<path d="M171.70 519.70L174.90 524.80L171.70 529.90L168.50 524.80Z" fill="#7a2ea8" stroke="#000" stroke-width="1.15"/>
<path d="M143.70 555.90L146.90 561.00L143.70 566.10L140.50 561.00Z" fill="#7a2ea8" stroke="#000" stroke-width="1.15"/>
<path d="M156.80 548.50L160.00 553.60L156.80 558.70L153.60 553.60Z" fill="#7a2ea8" stroke="#000" stroke-width="1.15"/>
<path d="M137.50 536.20L140.70 541.30L137.50 546.40L134.30 541.30Z" fill="#7a2ea8" stroke="#000" stroke-width="1.15"/>
<path d="M165.40 547.90L169.70 555.10L161.10 555.10Z" fill="#1eae54" stroke="#000" stroke-width="0.9"/>
<path d="M169.20 546.40L173.50 553.60L164.90 553.60Z" fill="#1eae54" stroke="#000" stroke-width="0.9"/>
<path d="M178.10 547.10L182.40 554.30L173.80 554.30Z" fill="#1eae54" stroke="#000" stroke-width="0.9"/>
<path d="M171.40 552.30L175.70 559.50L167.10 559.50Z" fill="#1eae54" stroke="#000" stroke-width="0.9"/>
<path d="M175.90 551.60L180.20 558.80L171.60 558.80Z" fill="#1eae54" stroke="#000" stroke-width="0.9"/>
<path d="M185.60 552.30L189.90 559.50L181.30 559.50Z" fill="#1eae54" stroke="#000" stroke-width="0.9"/>
<path d="M155.70 556.10L160.00 563.30L151.40 563.30Z" fill="#1eae54" stroke="#000" stroke-width="0.9"/>
<path d="M167.70 556.80L172.00 564.00L163.40 564.00Z" fill="#1eae54" stroke="#000" stroke-width="0.9"/>
<path d="M181.10 556.80L185.40 564.00L176.80 564.00Z" fill="#1eae54" stroke="#000" stroke-width="0.9"/>
<path d="M163.90 560.60L168.20 567.80L159.60 567.80Z" fill="#1eae54" stroke="#000" stroke-width="0.9"/>
<path d="M180.40 560.60L184.70 567.80L176.10 567.80Z" fill="#1eae54" stroke="#000" stroke-width="0.9"/>
<path d="M154.20 563.60L158.50 570.80L149.90 570.80Z" fill="#1eae54" stroke="#000" stroke-width="0.9"/>
<path d="M160.90 565.10L165.20 572.30L156.60 572.30Z" fill="#1eae54" stroke="#000" stroke-width="0.9"/>
<path d="M153.80 577.00L158.10 584.20L149.50 584.20Z" fill="#1eae54" stroke="#000" stroke-width="0.9"/>
<path d="M154.20 583.70L158.50 590.90L149.90 590.90Z" fill="#1eae54" stroke="#000" stroke-width="0.9"/>
<path d="M154.70 565.20L159.00 572.40L150.40 572.40Z" fill="#1eae54" stroke="#000" stroke-width="0.9"/>
<path d="M164.80 562.40L169.10 569.60L160.50 569.60Z" fill="#1eae54" stroke="#000" stroke-width="0.9"/>
<text x="70.00" y="376.40" class="tt" textLength="131.1" lengthAdjust="spacingAndGlyphs">Grib garnet xenocrysts</text>
<text x="70.00" y="391.90" class="tt" textLength="127.2" lengthAdjust="spacingAndGlyphs">Shchukina et al., 2016</text>
<rect x="303.6" y="363.6" width="123" height="161.70000000000002" fill="#fff" stroke="#111" stroke-width="1.3"/>
<text x="333.60" y="379.10" class="lg" text-anchor="end" textLength="24.2" lengthAdjust="spacingAndGlyphs">G10</text>
<path d="M345.00 370.80L348.60 375.80L345.00 380.80L341.40 375.80Z" fill="#7a2ea8" stroke="#000" stroke-width="1.0"/>
<text x="356.00" y="379.40" class="lg" textLength="67.2" lengthAdjust="spacingAndGlyphs">harzburgitic</text>
<text x="333.60" y="398.30" class="lg" text-anchor="end">G9</text>
<path d="M345.00 387.50L348.60 392.50L345.00 397.50L341.40 392.50Z" fill="#cf3882" stroke="#000" stroke-width="1.0"/>
<text x="356.00" y="398.20" class="lg" textLength="54.2" lengthAdjust="spacingAndGlyphs">lherzolitic</text>
<text x="333.60" y="422.90" class="lg" text-anchor="end">G1</text>
<path d="M344.90 413.90L349.50 421.90L340.30 421.90Z" fill="#1eae54" stroke="#000" stroke-width="0.9"/>
<text x="356.00" y="415.30" class="lg" textLength="37.1" lengthAdjust="spacingAndGlyphs">low-Cr</text>
<text x="356.00" y="429.30" class="lg" textLength="68.4" lengthAdjust="spacingAndGlyphs">megacrystic</text>
<text x="333.60" y="448.50" class="lg" text-anchor="end" textLength="22.7" lengthAdjust="spacingAndGlyphs">G11</text>
<path d="M344.90 438.50L346.30 441.87L349.94 442.16L347.17 444.54L348.02 448.09L344.90 446.19L341.78 448.09L342.63 444.54L339.86 442.16L343.50 441.87Z" fill="#fff" stroke="#000" stroke-width="0.9" stroke-linejoin="miter"/>
<text x="356.00" y="448.50" class="lg" textLength="39.3" lengthAdjust="spacingAndGlyphs">high Ti</text>
<text x="333.60" y="473.50" class="lg" text-anchor="end">G4</text>
<rect x="341.00" y="465.30" width="7.8" height="7.8" fill="#ef5a24" stroke="#000" stroke-width="0.9"/>
<text x="356.00" y="467.30" class="lg" textLength="67.8" lengthAdjust="spacingAndGlyphs">pyroxenitic-</text>
<text x="356.00" y="480.50" class="lg" textLength="48.4" lengthAdjust="spacingAndGlyphs">eclogitic</text>
<text x="333.60" y="499.10" class="lg" text-anchor="end">G3</text>
<rect x="341.00" y="490.70" width="7.8" height="7.8" fill="#f7b51c" stroke="#000" stroke-width="0.9"/>
<text x="356.00" y="499.50" class="lg" textLength="48.4" lengthAdjust="spacingAndGlyphs">eclogitic</text>
<text x="333.60" y="516.90" class="lg" text-anchor="end">G0</text>
<circle cx="344.90" cy="512.00" r="3.0" fill="#d2d2d2" stroke="#000" stroke-width="0.9"/>
<text x="356.00" y="517.00" class="lg" textLength="68.4" lengthAdjust="spacingAndGlyphs">unclassified</text>
<text x="346.00" y="537.30" class="nn" textLength="35.6" lengthAdjust="spacingAndGlyphs">n = 150</text>
</svg></body></html>
